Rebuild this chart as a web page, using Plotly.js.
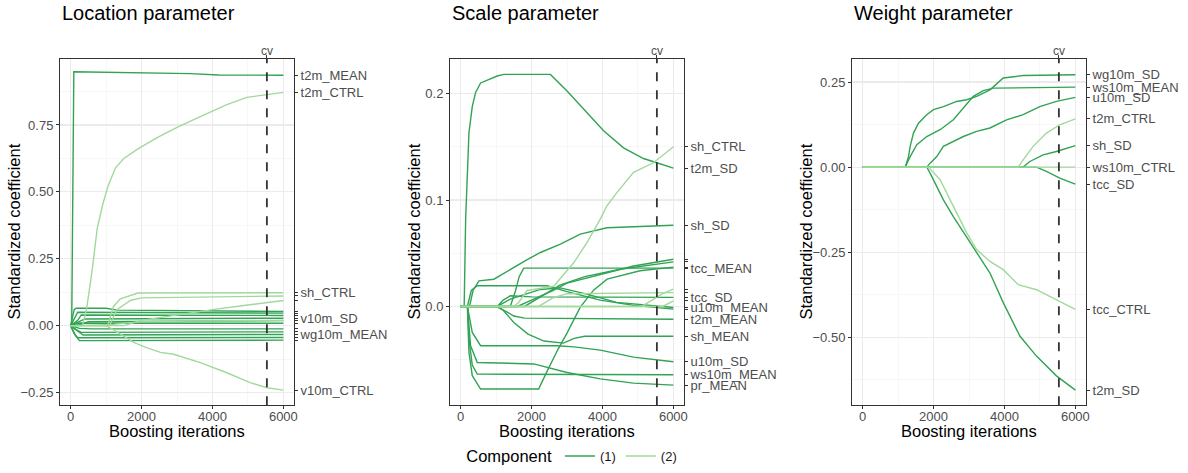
<!DOCTYPE html>
<html>
<head>
<meta charset="utf-8">
<script src="https://cdn.plot.ly/plotly-3.0.1.min.js"></script>
<style>html,body{margin:0;padding:0;background:#fff;}#chart{width:1188px;height:473px;}</style>
</head>
<body>
<div id="chart"></div>
<script>
// ---------------- data ----------------
const panelTitles = ["Location parameter", "Scale parameter", "Weight parameter"];
const xTitle = "Boosting iterations";
const yTitle = "Standardized coefficient";
const componentNames = ["(1)", "(2)"];
const cvIteration = 5535;
const xTickVals = [0, 2000, 4000, 6000];

// Location parameter
const locLabels = ["t2m_MEAN","t2m_CTRL","sh_CTRL","","","","v10m_CTRL","","","","v10m_SD","","","","","wg10m_MEAN","",""];
const locComp   = [1,2,2,2,2,2,2,1,1,1,1,1,1,1,1,1,1,1];
const locX = [
  [0,30,90,1266,3375,4170,6000],
  [0,330,450,600,750,900,1050,1266,1500,1876,2439,3001,3657,4407,4970,5541,6000],
  [0,1050,1200,1400,1900,6000],
  [0,1100,1300,1700,2000,4000,6000],
  [0,1500,2000,3000,4000,5000,6000],
  [0,1200,2000,6000],
  [0,1000,1200,1500,1781,2100,2532,2906,3657,4407,5063,5541,6000],
  [0,100,150,1000,1300,6000],
  [0,120,200,6000],
  [0,200,300,1500,6000],
  [0,150,400,6000],
  [0,300,500,6000],
  [0,200,6000],
  [0,250,600,6000],
  [0,150,300,6000],
  [0,200,350,6000],
  [0,100,200,6000],
  [0,150,250,6000]
];
const locY = [
  [0,0,0.949,0.946,0.942,0.937,0.936],
  [0,0,0.063,0.2,0.364,0.45,0.52,0.59,0.625,0.659,0.703,0.741,0.781,0.826,0.853,0.864,0.872],
  [0,0,0.07,0.1,0.122,0.123],
  [0,0,0.06,0.095,0.104,0.108,0.111],
  [0,0,0.02,0.04,0.06,0.077,0.094],
  [0,0.005,0.015,0.02],
  [0,0,-0.015,-0.04,-0.0625,-0.08,-0.1,-0.107,-0.138,-0.176,-0.213,-0.232,-0.241],
  [0,0.06,0.065,0.065,0.058,0.053],
  [0,0.03,0.05,0.047],
  [0,0.02,0.04,0.04,0.038],
  [0,0.01,0.025,0.028],
  [0,0.005,0.015,0.019],
  [0,0.01,0.009],
  [0,-0.01,-0.012,-0.012],
  [0,-0.015,-0.025,-0.023],
  [0,-0.02,-0.035,-0.033],
  [0,-0.03,-0.045,-0.044],
  [0,-0.04,-0.056,-0.054]
];

// Scale parameter
const scaLabels = ["t2m_SD","sh_CTRL","sh_SD","","pr_MEAN","ws10m_MEAN","u10m_SD","sh_MEAN","t2m_MEAN","","","","tcc_MEAN","tcc_SD","u10m_MEAN","","",""];
const scaComp   = [1,2,1,1,1,1,1,1,1,1,1,1,1,1,1,2,2,2];
const scaX = [
  [0,100,141,188,234,329,422,563,797,1031,1219,2532,3001,3563,4032,4595,5157,5532,6000],
  [0,1500,1641,1876,2625,2900,3188,3563,3938,4126,4407,4876,5438,6000],
  [0,250,350,516,938,1406,1876,2250,2813,3376,4126,6000],
  [0,190,234,328,563,2200,2450,2750,3000,3375,3750,4130,5060,6000],
  [0,190,281,469,2063,3000,3938,4876,6000],
  [0,200,234,328,470,6000],
  [0,190,328,563,2720,3200,3938,4876,6000],
  [0,1031,1200,1500,1900,2350,2900,3200,3500,6000],
  [0,1000,1300,1500,1800,6000],
  [0,190,300,470,2440,3000,3938,4876,6000],
  [0,1600,2063,2600,3000,3938,4876,6000],
  [0,1800,2300,2800,3500,4500,6000],
  [0,1400,1550,1650,1780,6000],
  [0,1031,1200,1400,2000,6000],
  [0,1031,1400,2250,2813,3563,4400,6000],
  [0,5100,5400,5700,6000],
  [0,2200,2600,3000,6000],
  [0,5700,6000]
];
const scaY = [
  [0,0,0.082,0.13,0.163,0.188,0.201,0.21,0.2134,0.2165,0.218,0.218,0.2025,0.182,0.165,0.149,0.139,0.135,0.13],
  [0,0,0.004,0.015,0.019,0.03,0.041,0.06,0.082,0.0945,0.107,0.126,0.135,0.15],
  [0,0,0.015,0.024,0.0256,0.035,0.044,0.0507,0.0585,0.068,0.074,0.0763],
  [0,0,-0.043,-0.065,-0.0776,-0.0776,-0.06,-0.04,-0.025,-0.0006,0.0153,0.0257,0.0335,0.037],
  [0,0,-0.037,-0.0526,-0.054,-0.062,-0.068,-0.072,-0.0739],
  [0,0,-0.03,-0.055,-0.0636,-0.0642],
  [0,0,-0.0244,-0.0369,-0.0369,-0.038,-0.041,-0.0476,-0.052],
  [0,0,-0.0035,-0.015,-0.026,-0.0325,-0.0344,-0.03,-0.028,-0.028],
  [0,0,-0.005,-0.009,-0.011,-0.012],
  [0,0,0.015,0.0194,0.0194,0.014,0.006,0.001,-0.0025],
  [0,0,0.007,0.015,0.022,0.03,0.038,0.0444],
  [0,0,0.01,0.02,0.028,0.035,0.0419],
  [0,0,0.015,0.028,0.036,0.036],
  [0,0,0.006,0.01,0.009,0.0085],
  [0,0,0.0069,0.016,0.0175,0.0116,0.0038,-0.001],
  [0,0,0.006,0.012,0.0163],
  [0,0,0.008,0.012,0.013],
  [0,0,0.0053]
];

// Weight parameter
const weiLabels = ["wg10m_SD","ws10m_MEAN","u10m_SD","t2m_CTRL","sh_SD","ws10m_CTRL","tcc_SD","tcc_CTRL","t2m_SD"];
const weiComp   = [1,1,1,2,1,2,1,2,1];
const weiX = [
  [0,1200,1294,1341,1434,1575,1809,1997,2278,2653,2934,3216,3591,3966,4528,6000],
  [0,1200,1341,1528,1809,2184,2559,2841,3122,3403,3684,6000],
  [0,1809,1903,2091,2278,2559,2841,3216,3591,4059,4528,4997,5466,6000],
  [0,4388,4528,4809,5184,5559,6000],
  [0,4528,4716,5091,5466,6000],
  [0,6000],
  [0,4903,5184,5559,6000],
  [0,1860,2184,2466,2747,2934,3216,3591,3966,4388,4903,5466,6000],
  [0,1810,1903,2091,2278,2559,2841,3122,3591,3966,4434,4903,5466,6000]
];
const weiY = [
  [0,0,0.031,0.061,0.1,0.129,0.154,0.169,0.178,0.193,0.198,0.208,0.227,0.262,0.269,0.2716],
  [0,0,0.031,0.066,0.09,0.11,0.139,0.174,0.208,0.225,0.232,0.235],
  [0,0,0.0118,0.031,0.061,0.0755,0.09,0.105,0.115,0.139,0.154,0.178,0.193,0.205],
  [0,0,0.0216,0.061,0.1,0.1245,0.142],
  [0,0,0.0167,0.036,0.046,0.063],
  [0,0],
  [0,0,-0.0127,-0.032,-0.05],
  [0,0,-0.037,-0.096,-0.155,-0.193,-0.242,-0.277,-0.301,-0.345,-0.36,-0.389,-0.418],
  [0,0,-0.0176,-0.057,-0.096,-0.145,-0.19,-0.233,-0.311,-0.398,-0.496,-0.555,-0.613,-0.655]
];

// ---------------- styling / layout ----------------
const W = 1188, H = 473;
const FONT = "Liberation Sans, Arial, Helvetica, sans-serif";
const compColors = {1: "#31A354", 2: "#A1D99B"};
const panelLeft = [60, 450, 852], panelWidth = 234;
const yTitleCenterX = [14.5, 414.5, 806.5];
const panelTop = 59, panelBottom = 406;
const yRanges = [[-0.297, 0.997], [-0.0927, 0.2326], [-0.699, 0.318]];
const yDticks = [0.25, 0.1, 0.25];
const yFormats = [".2f", ".1f", ".2f"];
const xRange = [-300, 6300];

const panels = [
  {labels: locLabels, comp: locComp, xs: locX, ys: locY},
  {labels: scaLabels, comp: scaComp, xs: scaX, ys: scaY},
  {labels: weiLabels, comp: weiComp, xs: weiX, ys: weiY}
];

const traces = [];
const layout = {
  width: W, height: H,
  margin: {l: 0, r: 0, t: 0, b: 0},
  paper_bgcolor: "#ffffff", plot_bgcolor: "#ffffff",
  font: {family: FONT, color: "#4D4D4D", size: 13},
  showlegend: true,
  legend: {
    orientation: "h", x: 0.4825, xanchor: "center", y: 1 - 458 / H, yanchor: "middle",
    title: {text: "Component", font: {size: 16.5, color: "#000000"}, side: "left"},
    font: {size: 13, color: "#1a1a1a"}, itemwidth: 30, bgcolor: "rgba(0,0,0,0)",
    traceorder: "normal"
  },
  annotations: [],
  shapes: []
};
const yDomain = [1 - panelBottom / H, 1 - panelTop / H];
const legendShown = {1: false, 2: false};

panels.forEach((p, i) => {
  const n = i + 1, m = i + 4;
  const xa = n === 1 ? "x" : "x" + n, ya = n === 1 ? "y" : "y" + n;
  const xo = "x" + m, yo = "y" + m;
  const xDom = [panelLeft[i] / W, (panelLeft[i] + panelWidth) / W];
  const order = [];
  p.comp.forEach((c, k) => { if (c === 1) order.push(k); });
  p.comp.forEach((c, k) => { if (c === 2) order.push(k); });
  order.forEach(k => {
    const c = p.comp[k];
    const show = !legendShown[c];
    legendShown[c] = true;
    traces.push({
      type: "scatter", mode: "lines", x: p.xs[k], y: p.ys[k],
      xaxis: xa, yaxis: ya,
      line: {color: compColors[c], width: 1.4},
      name: componentNames[c - 1], legendgroup: "c" + c, showlegend: show,
      legendrank: c, hoverinfo: "skip"
    });
  });
  // invisible anchor trace for overlay axes (cv top axis, right label axis)
  traces.push({type: "scatter", mode: "markers", x: [cvIteration], y: [0], xaxis: xo, yaxis: yo,
    marker: {opacity: 0, size: 1}, showlegend: false, hoverinfo: "skip"});

  const endVals = p.ys.map(a => a[a.length - 1]);
  const axisKey = s => s === "x" ? "xaxis" : s === "y" ? "yaxis" : s.replace("x", "xaxis").replace("y", "yaxis");

  layout[axisKey(xa)] = {
    domain: xDom, anchor: ya, range: xRange, tickmode: "array", tickvals: xTickVals, tickformat: "d",
    showgrid: true, gridcolor: "#EBEBEB", gridwidth: 1.1, zeroline: false,
    minor: {dtick: 1000, tick0: 0, showgrid: true, gridcolor: "#F2F2F2", gridwidth: 0.6, ticks: ""},
    showline: true, linecolor: "#333333", linewidth: 1, mirror: true,
    ticks: "outside", ticklen: 3, tickcolor: "#333333", tickwidth: 1, ticklabelstandoff: -4,
    tickfont: {size: 13, color: "#4D4D4D"}
  };
  layout[axisKey(ya)] = {
    domain: yDomain, anchor: xa, range: yRanges[i], dtick: yDticks[i], tick0: 0, tickformat: yFormats[i],
    showgrid: true, gridcolor: "#EBEBEB", gridwidth: 1.1, zeroline: false,
    minor: {dtick: yDticks[i] / 2, tick0: 0, showgrid: true, gridcolor: "#F2F2F2", gridwidth: 0.6, ticks: ""},
    showline: true, linecolor: "#333333", linewidth: 1, mirror: true,
    ticks: "outside", ticklen: 3, tickcolor: "#333333", tickwidth: 1,
    tickfont: {size: 13, color: "#4D4D4D"}
  };
  layout[axisKey(xo)] = {
    overlaying: xa, anchor: yo, side: "top", range: xRange,
    tickmode: "array", tickvals: [cvIteration], ticktext: ["cv"],
    showgrid: false, zeroline: false, showline: false,
    ticks: "outside", ticklen: 3, tickcolor: "#333333", tickwidth: 1, ticklabelstandoff: -5,
    tickfont: {size: 12, color: "#4D4D4D"}
  };
  layout[axisKey(yo)] = {
    overlaying: ya, anchor: xo, side: "right", range: yRanges[i],
    tickmode: "array", tickvals: endVals, ticktext: p.labels,
    showgrid: false, zeroline: false, showline: false,
    ticks: "outside", ticklen: 3, tickcolor: "#333333", tickwidth: 1,
    tickfont: {size: 13, color: "#4D4D4D"}
  };
  // cv reference line
  layout.shapes.push({type: "line", xref: xa, yref: ya + " domain", x0: cvIteration, x1: cvIteration, y0: 0, y1: 1,
    line: {color: "#333333", width: 1.8, dash: "dash"}, layer: "above"});
  // panel title
  layout.annotations.push({text: panelTitles[i], xref: "paper", yref: "paper", x: xDom[0], xanchor: "left",
    y: 1 - 13.5 / H, yanchor: "middle", showarrow: false, font: {size: 20, color: "#000000"}});
  // axis titles
  layout.annotations.push({text: xTitle, xref: "paper", yref: "paper", borderpad: 0,
    x: (panelLeft[i] + panelWidth / 2) / W, xanchor: "center", y: 1 - 432 / H, yanchor: "middle",
    showarrow: false, font: {size: 16.5, color: "#000000"}});
  layout.annotations.push({text: yTitle, xref: "paper", yref: "paper", textangle: -90, borderpad: 0,
    x: yTitleCenterX[i] / W, xanchor: "center", y: 1 - ((panelTop + panelBottom) / 2) / H, yanchor: "middle",
    showarrow: false, font: {size: 16.5, color: "#000000"}});
});

Plotly.newPlot("chart", traces, layout, {staticPlot: true, displayModeBar: false});
</script>
</body>
</html>
